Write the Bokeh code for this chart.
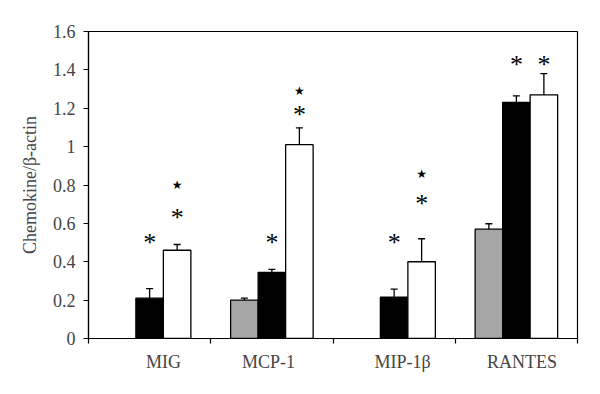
import math
from bokeh.plotting import figure
from bokeh.models import (ColumnDataSource, Whisker, TeeHead, FixedTicker,
                          NumeralTickFormatter)
from bokeh.core.properties import value
from bokeh.embed import file_html
from bokeh.resources import INLINE

nan = float("nan")

# ---- data ----
groups = ["MIG", "MCP-1", "MIP-1β", "RANTES"]
gray_vals = [nan, 0.20, nan, 0.57]
gray_errs = [nan, 0.010, nan, 0.028]
black_vals = [0.21, 0.345, 0.215, 1.23]
black_errs = [0.050, 0.015, 0.042, 0.035]
white_vals = [0.46, 1.01, 0.40, 1.27]
white_errs = [0.030, 0.088, 0.120, 0.110]

# significance marks (y levels where symbols sit)
black_ast = [0.51, 0.51, 0.51, 1.44]
white_ast = [0.64, 1.18, 0.715, 1.44]
white_star = [0.80, 1.29, 0.855, nan]

y_ticks = [0, 0.2, 0.4, 0.6, 0.8, 1.0, 1.2, 1.4, 1.6]

# ---- layout constants ----
BAR_W = 0.225
label_pos = [0.613, 1.472, 2.57, 3.546]
FONT = "Liberation Serif"

p = figure(width=600, height=394, x_range=(0, 4), y_range=(0, 1.6),
           output_backend="svg", toolbar_location=None,
           min_border_left=88, min_border_right=23,
           min_border_top=31, min_border_bottom=56)

def series(vals, errs, k):
    xs, ys, lo, hi = [], [], [], []
    for i, (v, e) in enumerate(zip(vals, errs)):
        if math.isnan(v):
            continue
        xs.append(i + 0.5 + (k - 1) * BAR_W)
        ys.append(v)
        lo.append(v - e)
        hi.append(v + e)
    return ColumnDataSource(dict(x=xs, top=ys, lower=lo, upper=hi))

colors = ["#a6a6a6", "#000000", "#ffffff"]
for k, (vals, errs) in enumerate([(gray_vals, gray_errs),
                                  (black_vals, black_errs),
                                  (white_vals, white_errs)]):
    src = series(vals, errs, k)
    p.vbar(x="x", top="top", width=BAR_W, bottom=0, source=src,
           fill_color=colors[k], line_color="black", line_width=1.3)
    p.add_layout(Whisker(source=src, base="x", upper="upper", lower="lower",
                         line_color="black", line_width=1.3,
                         upper_head=TeeHead(size=7, line_width=1.3),
                         lower_head=TeeHead(size=7, line_width=1.3)))

def marks(levels, k, sym):
    xs, ys = [], []
    for i, v in enumerate(levels):
        if math.isnan(v):
            continue
        xs.append(i + 0.5 + (k - 1) * BAR_W)
        ys.append(v)
    return ColumnDataSource(dict(x=xs, y=ys, t=[sym] * len(xs)))

for lv, k in [(black_ast, 1), (white_ast, 2)]:
    p.text(x="x", y="y", text="t", source=marks(lv, k, "*"),
           text_font=value(FONT), text_font_size="26px",
           text_align="center", text_baseline="alphabetic", y_offset=2,
           text_color="black")
p.text(x="x", y="y", text="t", source=marks(white_star, 2, "★"),
       text_font=value("DejaVu Sans"), text_font_size="12px",
       text_align="center", text_baseline="middle", text_color="black")

# ---- axes styling ----
p.xgrid.visible = False
p.ygrid.visible = False
p.outline_line_color = "black"
p.outline_line_width = 1.2

ya = p.yaxis[0]
ya.ticker = FixedTicker(ticks=y_ticks)
ya.formatter = NumeralTickFormatter(format="0.[0]")
ya.axis_label = "Chemokine/β-actin"
ya.axis_label_text_font = FONT
ya.axis_label_text_font_style = "normal"
ya.axis_label_text_font_size = "18px"
ya.axis_label_standoff = 10
ya.major_label_text_font = FONT
ya.major_label_text_font_size = "18px"
ya.major_label_standoff = 8
ya.major_tick_in = 0
ya.major_tick_out = 5
ya.minor_tick_line_color = None
ya.axis_line_width = 1.2
ya.major_tick_line_width = 1.2

xa = p.xaxis[0]
xa.ticker = FixedTicker(ticks=label_pos, minor_ticks=[0, 1, 2, 3, 4])
xa.major_label_overrides = {pos: g for pos, g in zip(label_pos, groups)}
xa.major_label_text_font = FONT
xa.major_label_text_font_size = "18px"
xa.major_label_standoff = 7
xa.major_tick_line_color = None
xa.minor_tick_in = 0
xa.minor_tick_out = 5
xa.minor_tick_line_color = "black"
xa.minor_tick_line_width = 1.2
xa.axis_line_width = 1.2

open("out.html", "w").write(file_html(p, INLINE))
